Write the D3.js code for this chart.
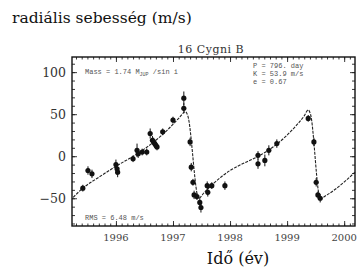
<!DOCTYPE html>
<html>
<head>
<meta charset="utf-8">
<script src="https://cdn.jsdelivr.net/npm/d3@7"></script>
<style>
body { margin: 0; background: #fff; }
svg { display: block; }
.serif { font-family: "DejaVu Serif", "Liberation Serif", serif; }
.mono { font-family: "Liberation Mono", "DejaVu Sans Mono", monospace; }
</style>
</head>
<body>
<div id="chart"></div>
<script>
// observations (year, radial velocity m/s, error bar m/s)
var obsYear = [1995.42, 1995.51, 1995.58, 1996.00, 1996.02, 1996.03, 1996.30, 1996.37, 1996.39, 1996.46,
	1996.54, 1996.60, 1996.64, 1996.66, 1996.68, 1996.70, 1996.72, 1996.82, 1997.00, 1997.19,
	1997.19, 1997.30, 1997.32, 1997.35, 1997.37, 1997.42, 1997.47, 1997.49, 1997.60, 1997.61,
	1997.68, 1997.91, 1998.49, 1998.49, 1998.61, 1998.68, 1998.82, 1999.37, 1999.47, 1999.51,
	1999.54, 1999.58];
var obsVel = [-38, -17, -21, -10, -15, -19, -3, 7, 3, 5,
	5, 27, 19, 17, 15, 13, 11, 29, 43, 69,
	57, 17, -13, -31, -46, -48, -55, -61, -35, -43,
	-35, -35, 1, -9, -5, 7, 15, 45, 17, -31,
	-46, -50];
var obsErr = [4, 5, 5, 6, 7, 6, 4, 8, 5, 4,
	4, 6, 5, 5, 5, 4, 4, 4, 4, 8,
	6, 5, 5, 4, 5, 4, 5, 6, 5, 5,
	4, 5, 5, 6, 7, 6, 5, 4, 5, 5,
	4, 5];

// fitted orbit
var fitYear = [1995.25, 1995.42, 1995.70, 1996.00, 1996.40, 1996.70, 1996.90, 1997.10, 1997.22, 1997.26,
	1997.45, 1997.55, 1997.70, 1998.00, 1998.25, 1998.55, 1998.85, 1999.10, 1999.30, 1999.37,
	1999.41, 1999.58, 1999.70, 1999.85, 2000.19];
var fitVel = [-49, -38, -25, -12, 4, 19, 31, 45, 53, 48,
	-50, -43, -33, -17, -8, 2, 16, 32, 48, 55,
	50, -50, -46, -39, -19];

var yTicks = [-50, 0, 50, 100];
var xTicks = [1996, 1997, 1998, 1999, 2000];

var width = 360, height = 270;
var plotL = 72, plotR = 355, plotT = 57, plotB = 226;

var svg = d3.select("#chart").append("svg")
	.attr("width", width)
	.attr("height", height);

var x = d3.scaleLinear().domain([1995.23, 2000.19]).range([plotL, plotR]);
var y = d3.scaleLinear().domain([-83, 118]).range([plotB, plotT]);

// minor ticks on all four sides
var minorX = d3.range(1995.3, 2000.15, 0.1);
var minorY = d3.range(-80, 111, 10);

function frameAxis(axis, tx, ty) {
	var g = svg.append("g").attr("transform", "translate(" + tx + "," + ty + ")").call(axis);
	g.selectAll("text").remove();
	g.select(".domain").remove();
	g.selectAll("line").attr("stroke", "#222").attr("stroke-width", 0.9);
	return g;
}
frameAxis(d3.axisBottom(x).tickValues(minorX).tickSize(-2.5), 0, plotB);
frameAxis(d3.axisTop(x).tickValues(minorX).tickSize(-2.5), 0, plotT);
frameAxis(d3.axisLeft(y).tickValues(minorY).tickSize(-3), plotL, 0);
frameAxis(d3.axisRight(y).tickValues(minorY).tickSize(-3), plotR, 0);
frameAxis(d3.axisBottom(x).tickValues(xTicks).tickSize(-5), 0, plotB);
frameAxis(d3.axisTop(x).tickValues(xTicks).tickSize(-5), 0, plotT);
frameAxis(d3.axisLeft(y).tickValues(yTicks).tickSize(-5), plotL, 0);
frameAxis(d3.axisRight(y).tickValues(yTicks).tickSize(-5), plotR, 0);

svg.append("rect")
	.attr("x", plotL).attr("y", plotT)
	.attr("width", plotR - plotL).attr("height", plotB - plotT)
	.attr("fill", "none")
	.attr("stroke", "#111")
	.attr("stroke-width", 1.4);

// tick labels
svg.selectAll(".ylab")
	.data(yTicks)
	.enter().append("text")
	.attr("class", "ylab serif")
	.attr("x", plotL - 6)
	.attr("y", function(d) { return y(d) + 4.5; })
	.attr("text-anchor", "end")
	.style("font-size", "12.5px")
	.style("fill", "#333")
	.text(function(d) { return d < 0 ? "\u2212" + Math.abs(d) : d; });

svg.selectAll(".xlab")
	.data(xTicks)
	.enter().append("text")
	.attr("class", "xlab serif")
	.attr("x", function(d) { return x(d); })
	.attr("y", 241)
	.attr("text-anchor", "middle")
	.style("font-size", "10px")
	.style("fill", "#444")
	.text(function(d) { return d; });

// fitted curve
var line = d3.line()
	.x(function(d, i) { return x(fitYear[i]); })
	.y(function(d, i) { return y(fitVel[i]); })
	.curve(d3.curveMonotoneX);

svg.append("path")
	.attr("d", line(fitYear))
	.attr("fill", "none")
	.attr("stroke", "#222")
	.attr("stroke-width", 1.1)
	.attr("stroke-dasharray", "3,1.2");

// error bars and points
var obs = obsYear.map(function(d, i) { return { t: d, v: obsVel[i], e: obsErr[i] }; });

svg.selectAll(".err")
	.data(obs)
	.enter().append("line")
	.attr("class", "err")
	.attr("x1", function(d) { return x(d.t); })
	.attr("x2", function(d) { return x(d.t); })
	.attr("y1", function(d) { return y(d.v - d.e); })
	.attr("y2", function(d) { return y(d.v + d.e); })
	.attr("stroke", "#111")
	.attr("stroke-width", 1);

svg.selectAll(".pt")
	.data(obs)
	.enter().append("circle")
	.attr("class", "pt")
	.attr("cx", function(d) { return x(d.t); })
	.attr("cy", function(d) { return y(d.v); })
	.attr("r", 2.6)
	.attr("fill", "#111");

// texts
svg.append("text")
	.attr("class", "serif")
	.attr("x", 12).attr("y", 23)
	.style("font-size", "15.5px")
	.style("fill", "#111")
	.text("radiális sebesség (m/s)");

svg.append("text")
	.attr("class", "serif")
	.attr("x", 211).attr("y", 53)
	.attr("text-anchor", "middle")
	.style("font-size", "11px")
	.style("letter-spacing", "0.5px")
	.style("fill", "#333")
	.text("16 Cygni B");

svg.append("text")
	.attr("class", "serif")
	.attr("x", 238).attr("y", 264)
	.attr("text-anchor", "middle")
	.style("font-size", "16px")
	.style("fill", "#111")
	.text("Idő (év)");

var note = svg.append("g")
	.attr("class", "mono")
	.style("font-size", "7px")
	.style("fill", "#555");

var mass = note.append("text").attr("x", 85).attr("y", 74);
mass.append("tspan").text("Mass = 1.74 M");
mass.append("tspan").attr("dy", 2).style("font-size", "5px").text("JUP");
mass.append("tspan").attr("dy", -2).text(" /sin i");

note.append("text").attr("x", 253).attr("y", 68).text("P = 796. day");
note.append("text").attr("x", 253).attr("y", 76).text("K = 53.9 m/s");
note.append("text").attr("x", 253).attr("y", 84).text("e = 0.67");
note.append("text").attr("x", 85).attr("y", 220).text("RMS = 6.48 m/s");
</script>
</body>
</html>
